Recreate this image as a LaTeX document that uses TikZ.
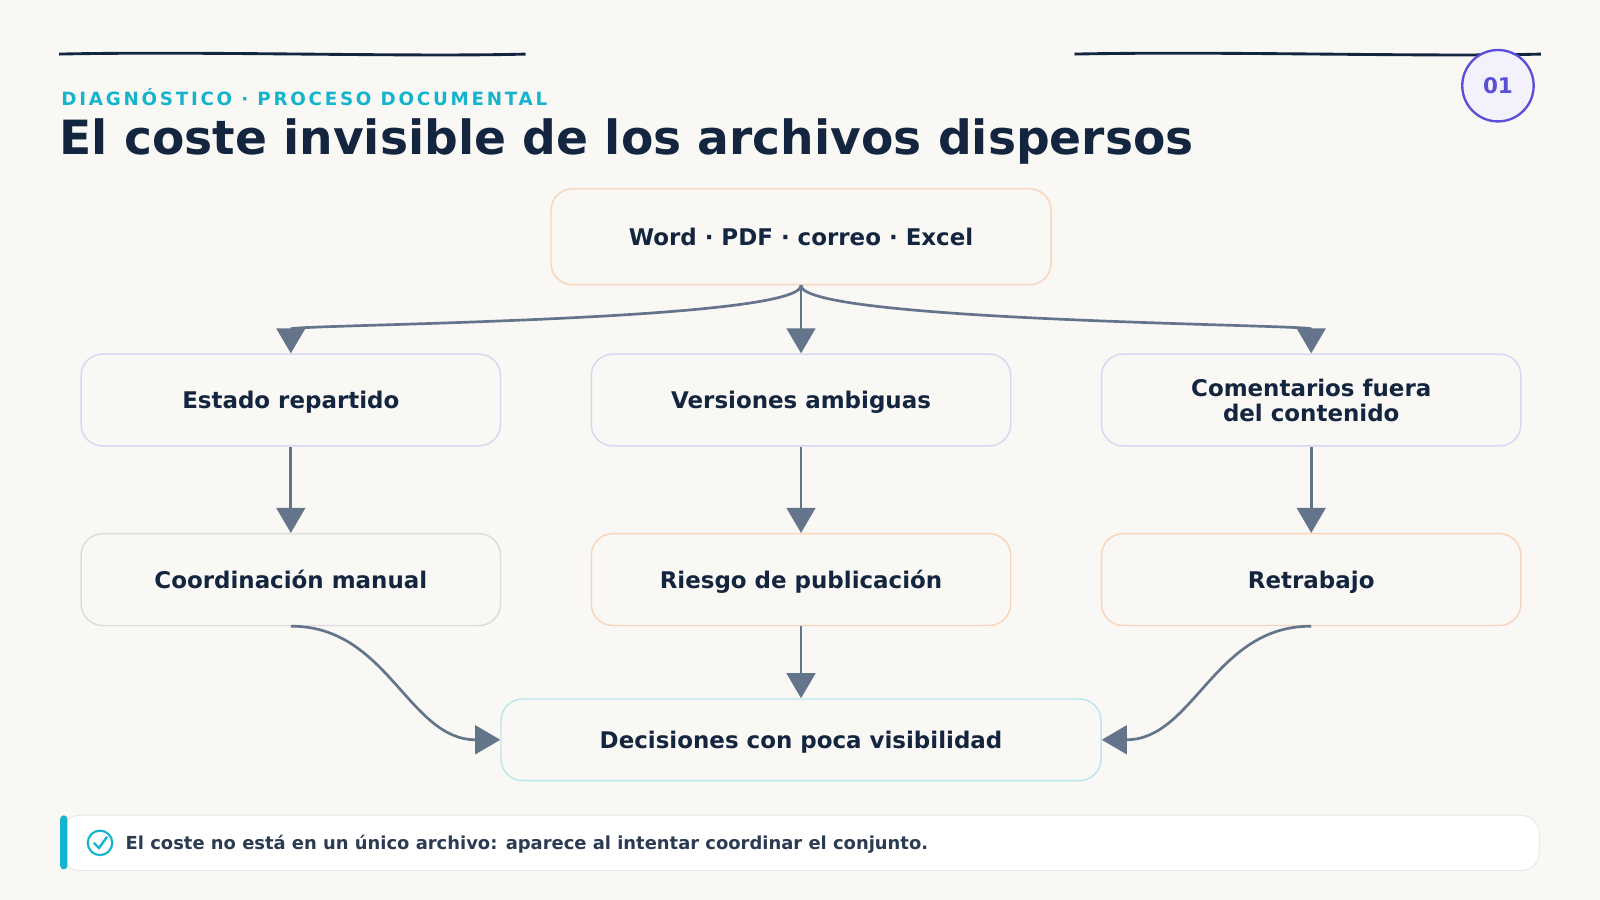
\documentclass[tikz,border=0pt]{standalone}
\usepackage{fontspec}
\setmainfont{DejaVu Sans}
\usetikzlibrary{arrows.meta,positioning}
\definecolor{bgc}{HTML}{F9F8F5}
\definecolor{navy}{HTML}{13253F}
\definecolor{cyanc}{HTML}{14B4CC}
\definecolor{arrowc}{HTML}{64748B}
\definecolor{orangeb}{HTML}{F8D5BA}
\definecolor{lavb}{HTML}{D9D5F2}
\definecolor{grayb}{HTML}{DCDCDC}
\definecolor{cyanb}{HTML}{B9E6EE}
\definecolor{purp}{HTML}{5B4FD6}
\tikzset{
  box/.style={draw,rounded corners=12pt,fill=bgc,line width=0.8pt,minimum width=411\px,minimum height=90\px,
    align=center,font=\bfseries\fontsize{12.8}{14}\selectfont,text=navy,text depth=0pt},
  flow/.style={draw=arrowc,line width=1.5pt,-{Triangle[width=16pt,length=14pt]}},
}
\newlength{\px}\setlength{\px}{0.02cm}
\begin{document}
\begin{tikzpicture}[x=0.02cm,y=-0.02cm]
  \fill[bgc] (0,0) rectangle (1568,882);
  \useasboundingbox (0,0) rectangle (1568,882);
  % header
  \draw[navy,line width=1.6pt] (58,53) .. controls (200,50) and (400,56) .. (515,53);
  \draw[navy,line width=1.6pt] (1053,53) .. controls (1200,50) and (1400,56) .. (1510,53);
  \node[draw=purp,line width=1.3pt,fill=purp!8,circle,minimum size=70\px,text=purp,
    font=\bfseries\fontsize{12}{12}\selectfont] (num) at (1468,84) {01};
  \node[anchor=west,text=cyanc,font=\bfseries\fontsize{10.2}{10}\selectfont] (kick) at (54,95)
    {\addfontfeature{LetterSpace=15}DIAGNÓSTICO · PROCESO DOCUMENTAL};
  \node[anchor=west,text=navy,font=\bfseries\fontsize{26.3}{26}\selectfont] (title) at (52,139)
    {El coste invisible de los archivos dispersos};
  % boxes
  \node[box,draw=orangeb,minimum width=490\px,minimum height=94\px] (src) at (785,232) {Word · PDF · correo · Excel};
  \node[box,draw=lavb] (estado) at (285,392) {Estado repartido};
  \node[box,draw=lavb] (vers) at (785,392) {Versiones ambiguas};
  \node[box,draw=lavb] (coment) at (1285,392) {Comentarios fuera\\del contenido};
  \node[box,draw=grayb] (coord) at (285,568) {Coordinación manual};
  \node[box,draw=orangeb] (riesgo) at (785,568) {Riesgo de publicación};
  \node[box,draw=orangeb] (retra) at (1285,568) {Retrabajo};
  \node[box,draw=cyanb,minimum width=588\px,minimum height=80\px] (dec) at (785,725) {Decisiones con poca visibilidad};
  % connectors
  \draw[flow] (src.south) .. controls (785,315) and (285,318) .. (estado.north);
  \draw[flow] (src.south) -- (vers.north);
  \draw[flow] (src.south) .. controls (785,315) and (1285,318) .. (coment.north);
  \draw[flow] (estado) -- (coord);
  \draw[flow] (vers) -- (riesgo);
  \draw[flow] (coment) -- (retra);
  \draw[flow] (coord.south) .. controls (380,613) and (400,725) .. (dec.west);
  \draw[flow] (riesgo) -- (dec);
  \draw[flow] (retra.south) .. controls (1190,613) and (1170,725) .. (dec.east);
  % footer
  \node[draw=grayb!70,fill=white,rounded corners=10pt,minimum width=1448\px,minimum height=54\px,anchor=west] (foot) at (60,826) {};
  \fill[cyanc,rounded corners=2pt] (59,799) rectangle (66,852);
  \node[circle,draw=cyanc,line width=1.2pt,minimum size=24\px,inner sep=0pt] (chk) at (98,826) {};
  \draw[cyanc,line width=1.3pt] (92,826) -- (97,831) -- (105,820);
  \node[anchor=west,text=navy!90,font=\bfseries\fontsize{10}{10}\selectfont] (msg) at (117,827)
    {El coste no está en un único archivo: aparece al intentar coordinar el conjunto.};
\end{tikzpicture}
\end{document}
